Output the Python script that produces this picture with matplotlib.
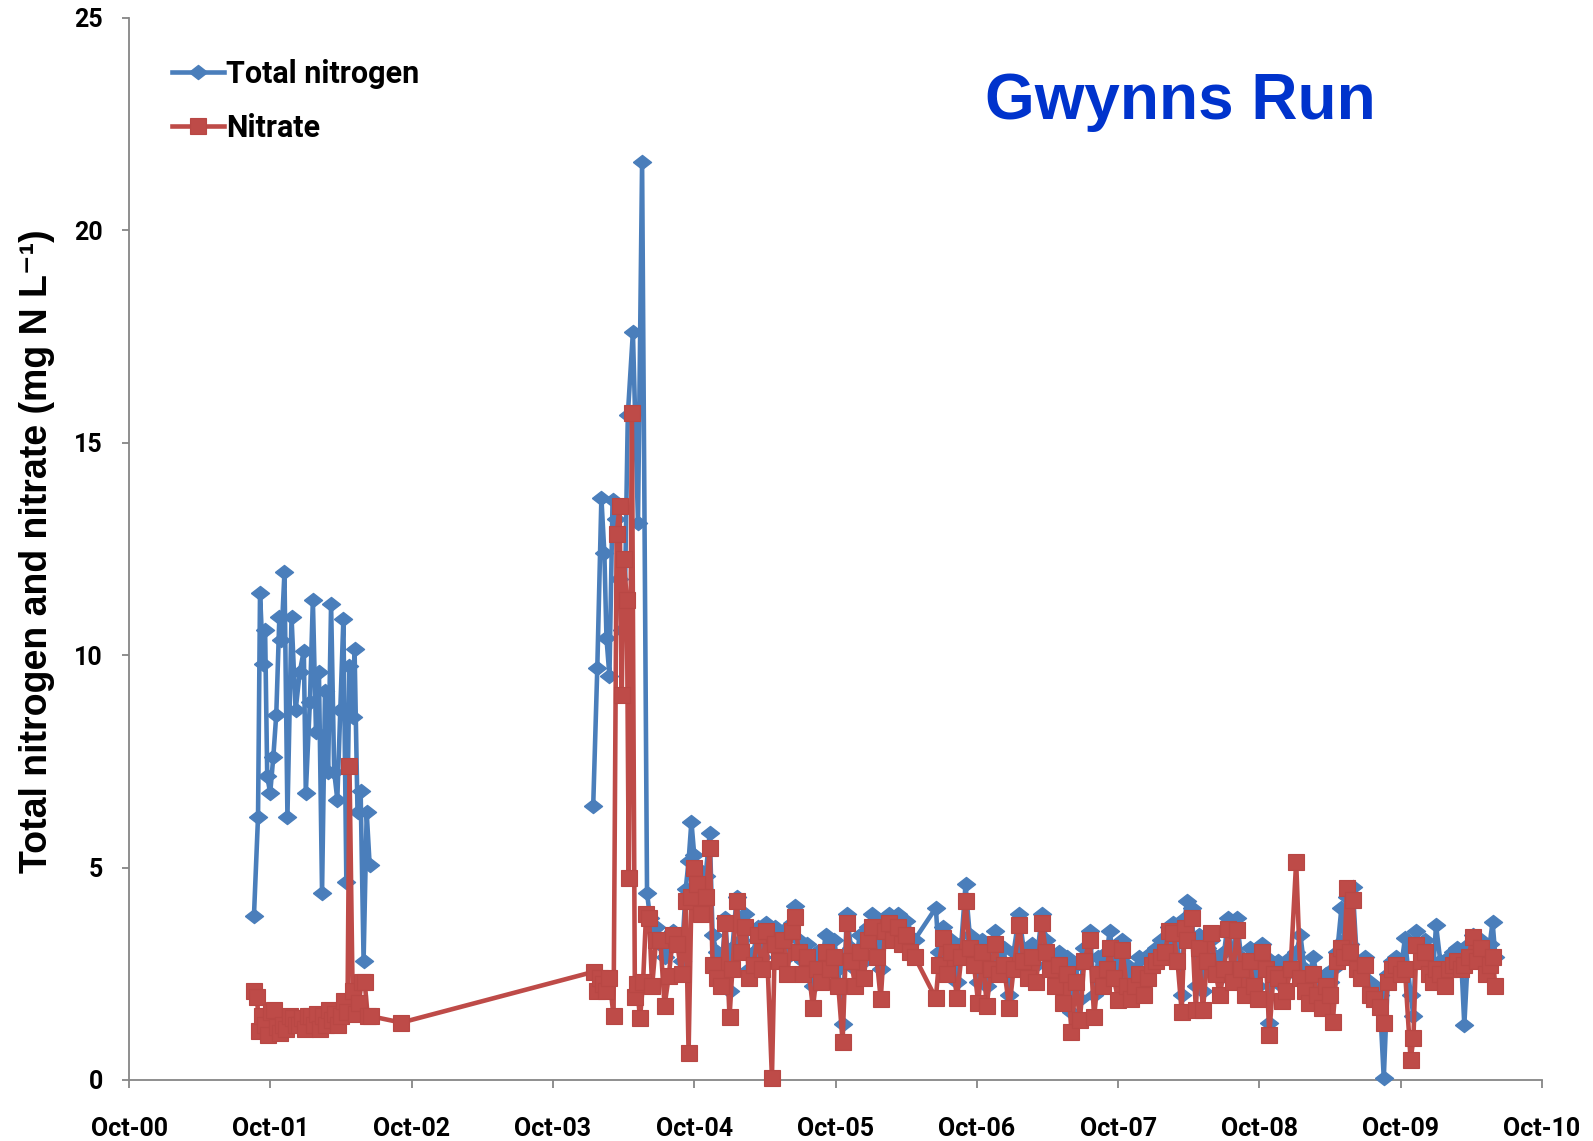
import matplotlib
matplotlib.use("Agg")
import matplotlib.pyplot as plt

# ---- data (decimal years, mg N/L) ----
# early record 2001-2002
tn_early_t = [2001.634, 2001.663, 2001.677, 2001.699, 2001.713, 2001.728, 2001.749, 2001.771,
              2001.792, 2001.814, 2001.828, 2001.850, 2001.871, 2001.900, 2001.929, 2001.958,
              2001.987, 2002.001, 2002.030, 2002.051, 2002.073, 2002.094, 2002.116, 2002.137,
              2002.159, 2002.180, 2002.202, 2002.224, 2002.245, 2002.267, 2002.288, 2002.310,
              2002.332, 2002.346, 2002.367, 2002.389, 2002.410, 2002.432, 2002.453]
tn_early_v = [3.85, 6.2, 11.45, 9.8, 10.6, 7.15, 6.75, 7.6,
              8.6, 10.9, 10.35, 11.95, 6.2, 10.9, 8.7, 9.6,
              10.1, 6.75, 8.9, 11.3, 8.2, 9.6, 4.4, 9.15,
              7.25, 11.2, 7.25, 6.6, 8.7, 10.85, 4.65, 9.75,
              8.55, 10.15, 6.3, 6.8, 2.8, 6.3, 5.05]

no3_early_t = [2001.634, 2001.656, 2001.670, 2001.692, 2001.713, 2001.735, 2001.756, 2001.778,
               2001.800, 2001.821, 2001.843, 2001.864, 2001.886, 2001.907, 2001.929, 2001.951,
               2001.972, 2001.994, 2002.015, 2002.037, 2002.059, 2002.080, 2002.102, 2002.123,
               2002.145, 2002.166, 2002.188, 2002.209, 2002.231, 2002.252, 2002.274, 2002.296,
               2002.310, 2002.332, 2002.353, 2002.375, 2002.396, 2002.418, 2002.439, 2002.461,
               2002.677]
no3_early_v = [2.1, 1.95, 1.15, 1.5, 1.3, 1.05, 1.6, 1.65,
               1.25, 1.1, 1.3, 1.2, 1.5, 1.45, 1.3, 1.3,
               1.45, 1.2, 1.5, 1.5, 1.3, 1.55, 1.2, 1.5,
               1.3, 1.65, 1.4, 1.55, 1.3, 1.5, 1.85, 1.6,
               7.4, 2.1, 1.55, 1.8, 2.3, 2.3, 1.5, 1.5,
               1.35]

# 2004 spike
tn_spike_t = [2004.035, 2004.064, 2004.093, 2004.114, 2004.129, 2004.150, 2004.172, 2004.193,
              2004.215, 2004.237, 2004.258, 2004.280, 2004.316, 2004.352, 2004.381, 2004.416,
              2004.438, 2004.460]
tn_spike_v = [6.45, 9.7, 13.7, 12.4, 10.4, 9.5, 13.65, 13.2,
              11.8, 10.6, 11.1, 15.65, 17.6, 13.1, 21.6, 4.4,
              3.8, 3.55]

no3_spike_t = [2004.043, 2004.064, 2004.086, 2004.107, 2004.129, 2004.150, 2004.179, 2004.201,
               2004.222, 2004.237, 2004.251, 2004.273, 2004.287, 2004.309, 2004.330, 2004.345,
               2004.366, 2004.388, 2004.409, 2004.431, 2004.452]
no3_spike_v = [2.55, 2.1, 2.4, 2.25, 2.1, 2.4, 1.5, 12.85,
               13.5, 9.05, 12.25, 11.3, 4.75, 15.7, 1.95, 2.25,
               1.45, 2.3, 3.9, 3.8, 2.2]

# routine sampling 2004-2010 (same dates for both)
late_t = [2004.48, 2004.51, 2004.54, 2004.57, 2004.60, 2004.63, 2004.66, 2004.69, 2004.71, 2004.73,
          2004.75, 2004.77, 2004.80, 2004.83, 2004.86, 2004.88, 2004.91, 2004.94, 2004.97, 2005.00,
          2005.02, 2005.05, 2005.08, 2005.11, 2005.14, 2005.17, 2005.20, 2005.23, 2005.26, 2005.30,
          2005.32, 2005.35, 2005.38, 2005.41, 2005.44, 2005.46, 2005.49, 2005.52, 2005.55, 2005.59,
          2005.62, 2005.65, 2005.68, 2005.71, 2005.74, 2005.77, 2005.80, 2005.83, 2005.86, 2005.89,
          2005.92, 2005.95, 2005.98, 2006.01, 2006.04, 2006.07, 2006.10, 2006.13, 2006.16, 2006.19,
          2006.22, 2006.25, 2006.28, 2006.31, 2006.46, 2006.48, 2006.51, 2006.54, 2006.57, 2006.61,
          2006.64, 2006.67, 2006.70, 2006.73, 2006.76, 2006.79, 2006.82, 2006.85, 2006.88, 2006.91,
          2006.94, 2006.98, 2007.01, 2007.05, 2007.08, 2007.11, 2007.14, 2007.17, 2007.21, 2007.24,
          2007.27, 2007.30, 2007.33, 2007.36, 2007.39, 2007.42, 2007.45, 2007.48, 2007.51, 2007.55,
          2007.58, 2007.61, 2007.64, 2007.67, 2007.69, 2007.72, 2007.75, 2007.78, 2007.81, 2007.84,
          2007.87, 2007.90, 2007.93, 2007.96, 2007.99, 2008.02, 2008.05, 2008.08, 2008.11, 2008.14,
          2008.17, 2008.20, 2008.22, 2008.24, 2008.27, 2008.30, 2008.32, 2008.35, 2008.38, 2008.41,
          2008.44, 2008.47, 2008.50, 2008.53, 2008.56, 2008.59, 2008.62, 2008.65, 2008.68, 2008.71,
          2008.74, 2008.77, 2008.80, 2008.82, 2008.85, 2008.88, 2008.91, 2008.94, 2008.97, 2009.01,
          2009.04, 2009.07, 2009.10, 2009.13, 2009.16, 2009.19, 2009.22, 2009.25, 2009.27, 2009.30,
          2009.33, 2009.35, 2009.37, 2009.39, 2009.41, 2009.44, 2009.47, 2009.50, 2009.53, 2009.56,
          2009.60, 2009.63, 2009.66, 2009.69, 2009.72, 2009.75, 2009.78, 2009.82, 2009.84, 2009.86,
          2009.89, 2009.92, 2009.95, 2009.98, 2010.00, 2010.03, 2010.06, 2010.09, 2010.12, 2010.15,
          2010.18, 2010.20, 2010.23, 2010.26, 2010.29, 2010.32, 2010.35, 2010.38, 2010.40, 2010.42]
tn_late_v = [3.6, 3.2, 2.9, 3.1, 3.5, 3.3, 2.8, 4.5, 5.15, 6.08,
             5.3, 5.0, 4.2, 4.8, 5.82, 3.4, 3.0, 2.4, 3.8, 2.1,
             3.1, 4.3, 3.3, 3.9, 2.6, 3.0, 3.6, 2.9, 3.7, 3.3,
             3.6, 3.0, 3.5, 2.9, 3.7, 4.1, 3.3, 2.8, 3.2, 2.2,
             3.0, 2.7, 3.4, 2.9, 3.3, 2.6, 1.32, 3.9, 3.1, 2.6,
             3.4, 2.8, 3.6, 3.9, 3.2, 2.6, 3.8, 3.9, 3.5, 3.9,
             3.6, 3.75, 3.3, 3.3, 4.05, 3.0, 3.6, 2.9, 3.3, 2.3,
             3.2, 4.6, 3.4, 3.0, 2.3, 3.3, 2.2, 3.0, 3.5, 2.8,
             3.1, 2.0, 3.0, 3.9, 3.1, 2.8, 3.2, 2.7, 3.9, 3.3,
             3.0, 2.5, 3.0, 2.4, 2.9, 1.6, 2.7, 1.9, 3.1, 3.5,
             2.0, 2.9, 2.6, 3.0, 3.5, 2.8, 2.4, 3.3, 2.7, 2.3,
             2.6, 2.9, 2.4, 2.8, 3.0, 3.1, 3.3, 3.2, 3.6, 3.7,
             3.3, 2.0, 3.8, 4.2, 4.04, 2.2, 3.4, 2.1, 3.1, 3.3,
             2.9, 2.4, 3.0, 3.8, 2.6, 3.8, 2.9, 2.4, 3.1, 2.5,
             2.2, 3.2, 2.9, 1.33, 2.7, 2.8, 2.2, 2.5, 2.9, 3.0,
             3.41, 2.6, 2.3, 2.9, 2.4, 2.0, 2.5, 2.3, 2.6, 3.0,
             4.04, 3.3, 4.3, 3.2, 4.55, 2.8, 2.6, 2.9, 2.3, 2.2,
             2.0, 0.04, 2.5, 2.8, 2.9, 2.6, 3.33, 2.0, 1.5, 3.5,
             3.0, 3.3, 2.8, 2.6, 3.65, 2.8, 2.6, 2.9, 3.0, 3.1,
             2.7, 1.29, 3.2, 3.4, 3.0, 3.3, 2.9, 3.2, 3.72, 2.9]
no3_late_v = [3.3, 3.3, 1.75, 2.45, 3.4, 3.2, 2.5, 4.2, 0.63, 4.3,
              5.0, 4.6, 3.9, 4.3, 5.46, 2.7, 2.4, 2.2, 3.7, 1.49,
              2.6, 4.2, 3.0, 3.6, 2.4, 2.7, 3.4, 2.6, 3.5, 0.05,
              3.2, 2.8, 3.3, 2.5, 3.5, 3.84, 3.0, 2.5, 2.9, 1.69,
              2.6, 2.3, 3.0, 2.6, 2.9, 2.2, 0.9, 3.69, 2.8, 2.2,
              3.0, 2.4, 3.3, 3.6, 2.9, 1.9, 3.5, 3.7, 3.3, 3.6,
              3.2, 3.4, 3.0, 2.9, 1.92, 2.7, 3.33, 2.5, 3.0, 1.92,
              2.9, 4.2, 3.1, 2.7, 1.8, 3.0, 1.75, 2.6, 3.2, 2.5,
              2.7, 1.69, 2.6, 3.65, 2.8, 2.4, 2.9, 2.3, 3.69, 3.0,
              2.6, 2.2, 2.7, 1.8, 2.5, 1.14, 2.3, 1.41, 2.8, 3.29,
              1.49, 2.5, 2.2, 2.6, 3.1, 2.4, 1.88, 3.06, 2.2, 1.9,
              2.2, 2.5, 2.0, 2.4, 2.7, 2.8, 2.9, 3.0, 3.5, 3.45,
              2.8, 1.6, 3.57, 3.3, 3.8, 1.65, 3.1, 1.65, 2.8, 3.45,
              2.5, 2.0, 2.6, 3.55, 2.3, 3.53, 2.6, 2.0, 2.8, 2.2,
              1.9, 3.0, 2.6, 1.06, 2.5, 2.4, 1.85, 2.1, 2.6, 5.14,
              2.4, 2.1, 1.8, 2.5, 2.0, 1.7, 2.2, 2.0, 1.37, 2.8,
              3.1, 2.9, 4.51, 3.0, 4.23, 2.6, 2.4, 2.7, 2.0, 1.9,
              1.72, 1.33, 2.3, 2.6, 2.7, 2.5, 2.6, 0.47, 0.98, 3.18,
              2.8, 3.0, 2.5, 2.3, 2.6, 2.5, 2.2, 2.6, 2.7, 2.8,
              2.6, 2.7, 2.9, 3.37, 2.8, 3.1, 2.5, 2.7, 2.9, 2.2]

no3_t = no3_early_t + no3_spike_t + late_t
no3_v = no3_early_v + no3_spike_v + no3_late_v

tick_years = [2000.75 + k for k in range(11)]
tick_labels = ["Oct-00", "Oct-01", "Oct-02", "Oct-03", "Oct-04", "Oct-05",
               "Oct-06", "Oct-07", "Oct-08", "Oct-09", "Oct-10"]

BLUE = "#4A7EBB"
RED = "#BE4B48"
LBL_FONT = ["Roboto", "DejaVu Sans"]

fig = plt.figure(figsize=(15.93, 11.41), dpi=100)
ax = fig.add_axes([0.081, 0.0535, 0.887, 0.931])

diamond = [(-1, 0), (0, 0.78), (1, 0), (0, -0.78), (-1, 0)]
tn_style = dict(color=BLUE, lw=3.3, marker=diamond, ms=13, mfc=BLUE, mec=BLUE,
                clip_on=False, zorder=3)
# no total nitrogen samples between 2002 and 2004: draw the two records apart
ax.plot(tn_early_t, tn_early_v, '-', **tn_style)
ax.plot(tn_spike_t + late_t, tn_spike_v + tn_late_v, '-', label="Total nitrogen", **tn_style)
ax.plot(no3_t, no3_v, '-', color=RED, lw=3.3, marker='s', ms=12,
        mfc=RED, mec="#B84744", mew=0.8, label="Nitrate", clip_on=False, zorder=4)

ax.set_xlim(2000.75, 2010.75)
ax.set_ylim(0, 25)
ax.set_xticks(tick_years)
ax.set_xticklabels(tick_labels)
ax.set_yticks([0, 5, 10, 15, 20, 25])

for s in ["top", "right"]:
    ax.spines[s].set_visible(False)
for s in ["left", "bottom"]:
    ax.spines[s].set_color("#868686")
    ax.spines[s].set_linewidth(1.3)

ax.tick_params(axis='x', direction='out', length=6, width=1.3, color="#868686", pad=21)
ax.tick_params(axis='y', direction='out', length=5, width=1.3, color="#868686", pad=14)
for lbl in ax.get_xticklabels() + ax.get_yticklabels():
    lbl.set_fontfamily(LBL_FONT)
    lbl.set_fontweight("bold")
    lbl.set_fontsize(18)

leg = ax.legend(loc="upper left", bbox_to_anchor=(0.022, 0.973), frameon=False,
                prop={"family": LBL_FONT, "weight": "bold", "size": 22},
                handlelength=1.7, handletextpad=0.05, labelspacing=0.8,
                borderaxespad=0)

ax.text(0.744, 0.921, "Gwynns Run", transform=ax.transAxes, ha="center", va="center",
        fontsize=46, fontweight="bold", color="#0033CC", family="Liberation Sans")

fig.text(0.0235, 0.517, "Total nitrogen and nitrate (mg N L\u207b\u00b9)", rotation=90,
         ha="center", va="center", fontsize=27, fontweight="bold",
         family=["Liberation Sans", "DejaVu Sans"])

fig.savefig("out.png", dpi=100)
